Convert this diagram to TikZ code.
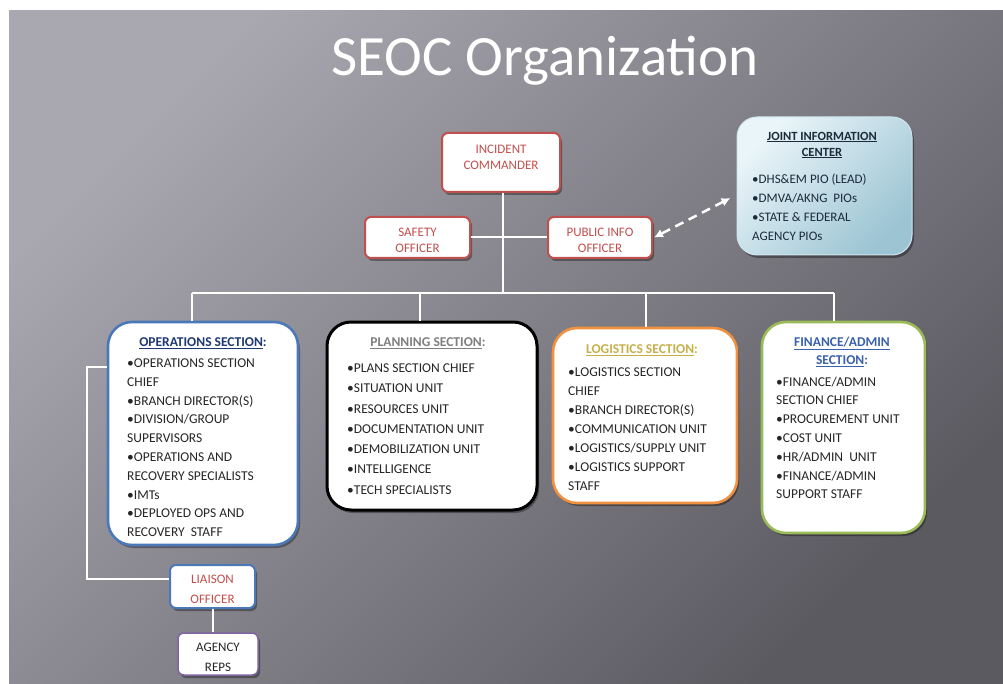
\documentclass[tikz,border=0pt]{standalone}
\usepackage{fontspec}
\setmainfont{Carlito}
\usetikzlibrary{shadows,arrows.meta}

\definecolor{bgA}{HTML}{A9A7AF}
\definecolor{bgB}{HTML}{727077}
\definecolor{bgC}{HTML}{5C5A61}
\definecolor{officered}{HTML}{C0504D}
\definecolor{opsblue}{HTML}{4A78B8}
\definecolor{opshead}{HTML}{1F3A73}
\definecolor{planhead}{HTML}{7F7F7F}
\definecolor{logorange}{HTML}{F0913F}
\definecolor{loghead}{HTML}{C6B04A}
\definecolor{fingreen}{HTML}{9BBB59}
\definecolor{finhead}{HTML}{3A62AB}
\definecolor{agencypurple}{HTML}{8064A2}
\definecolor{itemtext}{HTML}{262626}
\definecolor{jicA}{HTML}{EAF5F9}
\definecolor{jicB}{HTML}{9CC4D3}
\definecolor{jicedge}{HTML}{CFE6EE}
\definecolor{jictext}{HTML}{1C2B3A}

\tikzset{
  link/.style={draw=white, line width=2pt},
  infolink/.style={draw=white, line width=2.5pt, dash pattern=on 9pt off 6pt,
                   {Latex[length=9pt,width=9pt]}-{Latex[length=9pt,width=9pt]}},
  softshadow/.style={drop shadow={shadow xshift=2pt, shadow yshift=-3pt, opacity=0.35, fill=black}},
  officerbox/.style={draw=officered, line width=2pt, fill=white, rounded corners=6pt, inner sep=0pt, softshadow},
  section/.style={fill=white, rounded corners=24pt, line width=2.6pt, inner sep=0pt, softshadow},
  smallbox/.style={fill=white, rounded corners=6pt, line width=2pt, inner sep=0pt, softshadow},
  officerlabel/.style={align=center, inner sep=0pt, text=officered, font=\fontsize{13}{16}\selectfont},
  itemlist/.style={anchor=north west, align=left, inner sep=0pt, text=itemtext},
  sechead/.style={align=center, inner sep=0pt, font=\bfseries\fontsize{13.5}{18}\selectfont},
}

\begin{document}
\begin{tikzpicture}[x=1pt, y=-1pt]
\useasboundingbox (0,0) rectangle (1003,684);

% slide background
\fill[white] (0,0) rectangle (1003,684);
\shade[top color=bgA, middle color=bgB, bottom color=bgC, shading angle=45] (9,11) rectangle (1003,684);

% title
\node[anchor=base, text=white, font=\fontsize{57}{60}\selectfont] (title) at (545,76) {SEOC Organization};

% connector junctions
\coordinate (busL) at (192,293);
\coordinate (busC) at (503,293);
\coordinate (busP) at (420,293);
\coordinate (busG) at (646,293);
\coordinate (busR) at (834,293);
\coordinate (liaisonturn) at (87,367);

% command staff
\node[officerbox, minimum width=118, minimum height=59] (ic) at (501,162.5) {};
\node[officerbox, minimum width=105, minimum height=41] (safety) at (417.5,237.5) {};
\node[officerbox, minimum width=104, minimum height=41] (public) at (600,237.5) {};

% joint information center
\node[rounded corners=20pt, top color=jicA, bottom color=jicB, shading angle=45, draw=jicedge, line width=1pt,
      minimum width=175, minimum height=138, inner sep=0pt, softshadow] (jic) at (824.5,186) {};

% general staff sections
\node[section, draw=opsblue, minimum width=190, minimum height=223] (ops) at (203,433.5) {};
\node[section, draw=black, line width=3pt, minimum width=210, minimum height=188] (plan) at (432,416) {};
\node[section, draw=logorange, minimum width=184, minimum height=175] (log) at (645,415.5) {};
\node[section, draw=fingreen, minimum width=163, minimum height=211] (fin) at (843.5,427.5) {};

% liaison branch
\node[smallbox, draw=opsblue, minimum width=85, minimum height=43] (liaison) at (212.5,586.5) {};
\node[smallbox, draw=agencypurple, line width=1.5pt, minimum width=80, minimum height=42] (agency) at (218,654) {};

% connectors
\draw[link] (busC |- ic.south) -- (busC);
\draw[link] (safety.east) -- (public.west);
\draw[link] (busL) -- (busR);
\draw[link] (busL) -- (busL |- ops.north);
\draw[link] (busP) -- (busP |- plan.north);
\draw[link] (busG) -- (busG |- log.north);
\draw[link] (busR) -- (busR |- fin.north);
\draw[link] (liaisonturn -| ops.west) -- (liaisonturn) |- ([yshift=8pt]liaison.west);
\draw[link] (liaison.south) -- (liaison.south |- agency.north);
\draw[infolink] ([xshift=-6pt,yshift=-12pt]jic.west) -- ([xshift=1pt]public.east);

% box texts
\node[officerlabel] (iclabel) at (501,157) {INCIDENT\\COMMANDER};
\node[officerlabel] (safetylabel) at (417.5,240) {SAFETY\\OFFICER};
\node[officerlabel] (publiclabel) at (600,240) {PUBLIC INFO\\OFFICER};

\node[sechead, text=jictext, font=\bfseries\fontsize{12.5}{16}\selectfont] (jichead) at (822,145)
  {\underline{JOINT INFORMATION}\\\underline{CENTER}};
\node[itemlist, text=jictext, font=\fontsize{13}{19}\selectfont] (jicitems) at (752,173.5)
  {•DHS\&EM PIO (LEAD)\\•DMVA/AKNG\ \ PIOs\\•STATE \& FEDERAL\\AGENCY PIOs};

\node[sechead, text=opshead] (opshead) at (203,343) {\underline{OPERATIONS SECTION}:};
\node[itemlist, font=\fontsize{13.5}{18.8}\selectfont] (opsitems) at (127,358.5)
  {•OPERATIONS SECTION\\CHIEF\\•BRANCH DIRECTOR(S)\\•DIVISION/GROUP\\SUPERVISORS\\•OPERATIONS AND\\RECOVERY SPECIALISTS\\•IMTs\\•DEPLOYED OPS AND\\RECOVERY\ \ STAFF};

\node[sechead, text=planhead] (planhead) at (428,343) {\underline{PLANNING SECTION}:};
\node[itemlist, font=\fontsize{13.5}{20.3}\selectfont] (planitems) at (347,363.5)
  {•PLANS SECTION CHIEF\\•SITUATION UNIT\\•RESOURCES UNIT\\•DOCUMENTATION UNIT\\•DEMOBILIZATION UNIT\\•INTELLIGENCE\\•TECH SPECIALISTS};

\node[sechead, text=loghead] (loghead) at (642,350) {\underline{LOGISTICS SECTION}:};
\node[itemlist, font=\fontsize{13.5}{19}\selectfont] (logitems) at (568,367.5)
  {•LOGISTICS SECTION\\CHIEF\\•BRANCH DIRECTOR(S)\\•COMMUNICATION UNIT\\•LOGISTICS/SUPPLY UNIT\\•LOGISTICS SUPPORT\\STAFF};

\node[sechead, text=finhead] (finhead) at (842,352) {\underline{FINANCE/ADMIN}\\\underline{SECTION}:};
\node[itemlist, font=\fontsize{13.5}{18.8}\selectfont] (finitems) at (776,376.5)
  {•FINANCE/ADMIN\\SECTION CHIEF\\•PROCUREMENT UNIT\\•COST UNIT\\•HR/ADMIN\ \ UNIT\\•FINANCE/ADMIN\\SUPPORT STAFF};

\node[officerlabel, font=\fontsize{13}{20}\selectfont] (liaisonlabel) at (212.5,589) {LIAISON\\OFFICER};
\node[officerlabel, text=itemtext, font=\fontsize{13}{20}\selectfont] (agencylabel) at (218,657) {AGENCY\\REPS};
\end{tikzpicture}
\end{document}
